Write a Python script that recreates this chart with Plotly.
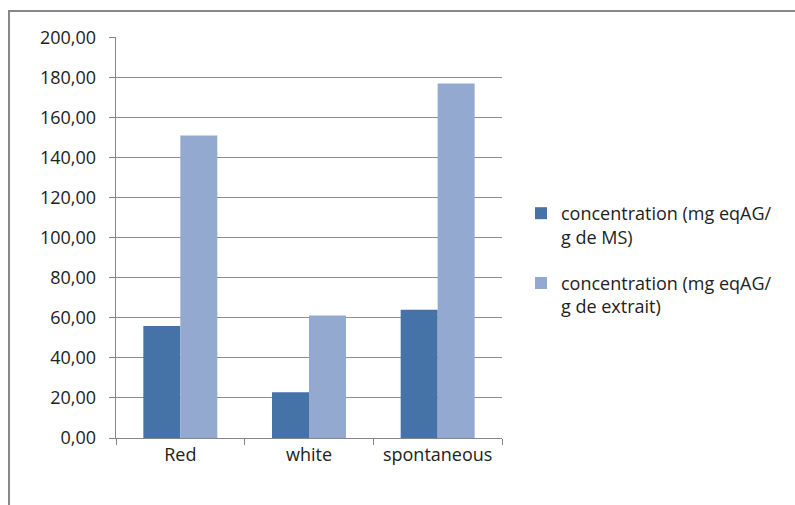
import plotly.graph_objects as go

categories = ["Red", "white", "spontaneous"]
conc_ms = [55.9, 22.8, 64.0]
conc_extrait = [151.1, 61.2, 177.1]
series_names = [
    "concentration (mg eqAG/<br>g de MS)",
    "concentration (mg eqAG/<br>g de extrait)",
]
y_ticks = [0, 20, 40, 60, 80, 100, 120, 140, 160, 180, 200]
y_labels = [f"{v:.2f}".replace(".", ",") + "\u00a0\u00a0" for v in y_ticks]

W, H = 795, 505
L, R, T, B = 116, 502, 37, 438

fig = go.Figure()
fig.add_trace(go.Bar(x=categories, y=conc_ms, name=series_names[0], legendgroup="ms",
                     marker=dict(color="#4572A7", line=dict(width=0))))
fig.add_trace(go.Bar(x=categories, y=conc_extrait, name=series_names[1], legendgroup="ext",
                     marker=dict(color="#93A9CF", line=dict(width=0))))

pw, ph = R - L, B - T
def px(x): return (x - L) / pw
def py(y): return (B - y) / ph

FONT = "Open Sans, Liberation Sans, sans-serif"
FS = 18

# chart-area frame
frame = dict(color="#878787", width=2)
shapes = [
    dict(type="rect", xref="paper", yref="paper",
         x0=px(9), x1=px(800), y0=py(520), y1=py(11), line=frame,
         fillcolor="rgba(0,0,0,0)", layer="below"),
]

fig.update_layout(
    width=W, height=H,
    margin=dict(l=L, r=W - R, t=T, b=H - B, pad=0),
    paper_bgcolor="white", plot_bgcolor="white",
    barmode="group", bargap=0.425, bargroupgap=0,
    font=dict(family=FONT, size=FS, color="#222"),
    showlegend=True,
    legend=dict(x=px(521), y=py(195), xanchor="left", yanchor="top",
                font=dict(family=FONT, size=FS, color="#222"), tracegroupgap=20,
                traceorder="grouped", valign="top", itemwidth=30,
                bgcolor="rgba(0,0,0,0)"),
    xaxis=dict(showgrid=False, showline=True, linecolor="#868686", linewidth=1,
               ticks="outside", tickson="boundaries", ticklen=6, tickcolor="#868686",
               tickfont=dict(family=FONT, size=FS, color="#222"), fixedrange=True),
    yaxis=dict(range=[0, 200.3], tickvals=y_ticks, ticktext=y_labels,
               showgrid=True, gridcolor="#8c8c8c", gridwidth=1,
               showline=True, linecolor="#868686", linewidth=1,
               ticks="outside", ticklen=6, tickcolor="#868686",
               tickfont=dict(family=FONT, size=FS, color="#222"), zeroline=False,
               fixedrange=True),
    shapes=shapes,
)

fig.write_html("out.html")
